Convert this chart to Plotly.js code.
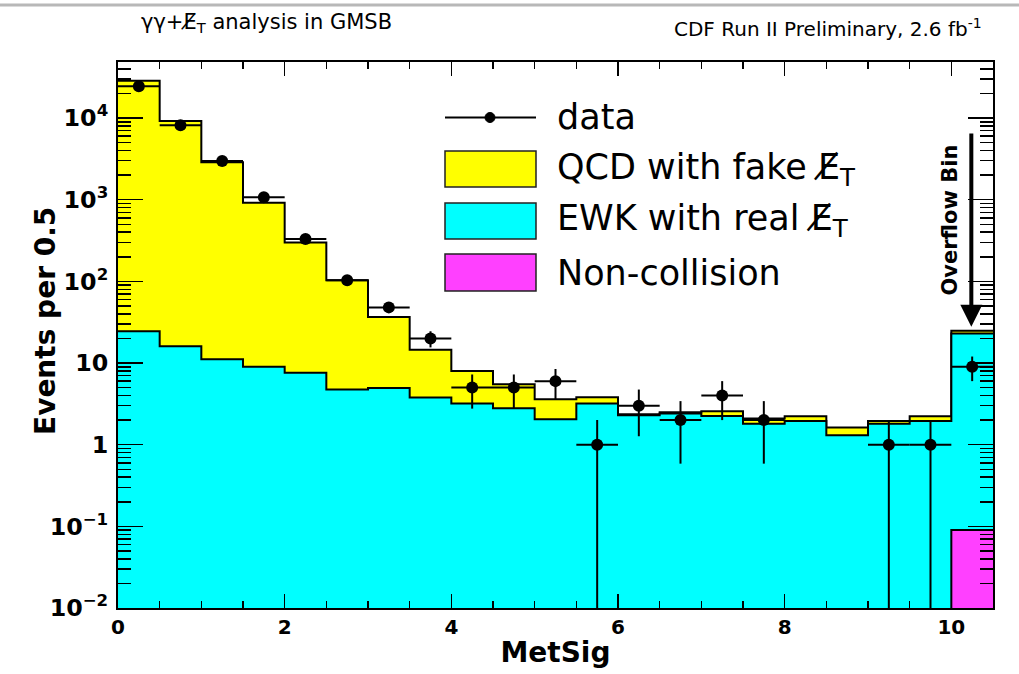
<!DOCTYPE html>
<html>
<head>
<meta charset="utf-8">
<script src="https://cdn.plot.ly/plotly-3.0.1.min.js"></script>
<style>
  html, body { margin: 0; padding: 0; background: #ffffff; }
  #chart { width: 1019px; height: 674px; }
</style>
</head>
<body>
<div id="chart"></div>
<script>
// ---- Data ----
const binCenters = [0.25, 0.75, 1.25, 1.75, 2.25, 2.75, 3.25, 3.75, 4.25, 4.75, 5.25,
                    5.75, 6.25, 6.75, 7.25, 7.75, 8.25, 8.75, 9.25, 9.75, 10.25];
const binWidth = 0.5;
const dataCounts = [24500, 8150, 2970, 1070, 329, 103, 48, 20, 5, 5, 6,
                    1, 3, 2, 4, 2, 0, 0, 1, 1, 9];
const qcdFakeMet = [28575, 9184, 2859, 907, 292.4, 98.3, 31.7, 10.8, 4.8, 2.7, 1.55,
                    0.6, 0.05, 0.1, 0.32, 0.29, 0.28, 0.32, 0.15, 0.28, 1.8];
const ewkRealMet = [24.5, 16, 11.1, 9.0, 7.6, 4.73, 4.95, 3.78, 3.19, 2.8, 2.05,
                    3.2, 2.3, 2.4, 2.25, 1.8, 1.95, 1.3, 1.8, 1.95, 22.9];
const nonCollision = [0, 0, 0, 0, 0, 0, 0, 0, 0, 0, 0,
                      0, 0, 0, 0, 0, 0, 0, 0, 0, 0.09];
const seriesNames = ['data', 'QCD with fake E\u0338<sub>T</sub>', 'EWK with real E\u0338<sub>T</sub>', 'Non-collision'];
const seriesColors = ['#000000', '#ffff00', '#00ffff', '#ff40ff'];
const xTitle = 'MetSig';
const yTitle = 'Events per 0.5';

// ---- Build step histograms (stacked: non-collision, EWK, QCD) ----
const edges = binCenters.map(c => c - binWidth / 2).concat([binCenters[binCenters.length - 1] + binWidth / 2]);
const stackNC = nonCollision.slice();
const stackEWK = nonCollision.map((v, i) => v + ewkRealMet[i]);
const stackQCD = stackEWK.map((v, i) => v + qcdFakeMet[i]);
const FLOOR = 1e-6;
function stepTrace(vals, color, name) {
  const y = vals.map(v => Math.max(v, FLOOR));
  y.push(y[y.length - 1]);
  return {
    type: 'scatter', mode: 'lines', name: name,
    x: edges, y: y,
    line: { shape: 'hv', color: '#000000', width: 2 },
    fill: 'tozeroy', fillcolor: color,
    showlegend: false, hoverinfo: 'skip'
  };
}

const dataX = [], dataY = [], errUp = [], errDn = [];
dataCounts.forEach((n, i) => {
  if (n > 0) {
    dataX.push(binCenters[i]);
    dataY.push(n);
    const s = Math.sqrt(n);
    errUp.push(s);
    errDn.push(s >= n ? n - FLOOR : s);
  }
});

const traces = [
  stepTrace(stackQCD, seriesColors[1], seriesNames[1]),
  stepTrace(stackEWK, seriesColors[2], seriesNames[2]),
  stepTrace(stackNC, seriesColors[3], seriesNames[3]),
  {
    type: 'scatter', mode: 'markers', name: seriesNames[0],
    x: dataX, y: dataY,
    marker: { color: '#000000', size: 12, symbol: 'circle' },
    error_y: { type: 'data', symmetric: false, array: errUp, arrayminus: errDn,
               color: '#000000', thickness: 2, width: 0 },
    error_x: { type: 'constant', value: binWidth / 2, color: '#000000', thickness: 2, width: 0 },
    showlegend: false
  }
];

// ---- Geometry helpers (pixel -> paper) for decorations ----
const L = 118, R = 26, T = 62, B = 66, W = 1019, H = 674;
const pw = W - L - R, ph = H - T - B;
const px = p => (p - L) / pw;
const py = p => (H - B - p) / ph;

const FONT = 'DejaVu Sans, Liberation Sans, Arial, sans-serif';

const shapes = [
  // light grey rule at very top of picture
  { type: 'line', xref: 'paper', yref: 'paper', x0: px(0), x1: px(W), y0: py(5), y1: py(5),
    line: { color: '#b8b8b8', width: 3 } },
  // legend: data line + dot
  { type: 'line', xref: 'paper', yref: 'paper', x0: px(445), x1: px(536), y0: py(117.5), y1: py(117.5),
    line: { color: '#000000', width: 2 } },
  { type: 'circle', xref: 'paper', yref: 'paper', xsizemode: 'pixel', ysizemode: 'pixel',
    xanchor: px(490), yanchor: py(117.5), x0: -5, x1: 5, y0: -5, y1: 5,
    fillcolor: '#000000', line: { color: '#000000', width: 1 } }
];
const boxRows = [[151, 187], [203, 239], [254, 291]];
boxRows.forEach((r, i) => {
  shapes.push({ type: 'rect', xref: 'paper', yref: 'paper', x0: px(445), x1: px(536), y0: py(r[1]), y1: py(r[0]),
    fillcolor: seriesColors[i + 1], line: { color: '#222222', width: 1.5 } });
});

const legendY = [117.5, 169, 221, 272.5];
const annotations = seriesNames.map((nm, i) => ({
  xref: 'paper', yref: 'paper', x: px(555), y: py(legendY[i]), xanchor: 'left', yanchor: 'middle',
  text: nm, showarrow: false, font: { family: FONT, size: 35, color: '#000000' }
}));

annotations.push(
  { xref: 'paper', yref: 'paper', x: px(266), y: py(23), xanchor: 'center', yanchor: 'middle',
    text: '\u03b3\u03b3+E\u0338<sub>T</sub> analysis in GMSB', showarrow: false,
    font: { family: FONT, size: 21, color: '#000000' } },
  { xref: 'paper', yref: 'paper', x: px(984), y: py(28), xanchor: 'right', yanchor: 'middle',
    text: 'CDF Run II Preliminary, 2.6 fb<sup>-1</sup>', showarrow: false,
    font: { family: FONT, size: 20, color: '#000000' } },
  // y-axis title, placed like the reference
  { xref: 'paper', yref: 'paper', x: px(45), y: py(321), xanchor: 'center', yanchor: 'middle',
    textangle: -90, text: yTitle, showarrow: false,
    font: { family: FONT, size: 28, weight: 'bold', color: '#000000' } },
  // Overflow arrow
  { xref: 'x', yref: 'y', axref: 'x', ayref: 'y',
    x: 10.24, y: Math.log10(stackQCD[20]) + 0.05, ax: 10.24, ay: 3.83,
    text: '', showarrow: true, arrowhead: 2, arrowsize: 1.1, arrowwidth: 4, arrowcolor: '#000000' },
  { xref: 'x', yref: 'y', x: 9.99, y: 2.75, textangle: -90, text: 'Overflow Bin', showarrow: false,
    xanchor: 'center', yanchor: 'middle',
    font: { family: FONT, size: 21, color: '#000000', weight: 'bold' } }
);

const layout = {
  width: W, height: H,
  margin: { l: L, r: R, t: T, b: B, pad: 0 },
  paper_bgcolor: '#ffffff', plot_bgcolor: '#ffffff',
  font: { family: FONT, color: '#000000' },
  showlegend: false,
  xaxis: {
    range: [0, 10.5], showgrid: false, zeroline: false,
    showline: true, linecolor: '#000000', linewidth: 2, mirror: 'ticks',
    ticks: 'inside', ticklen: 14, tickwidth: 1.5, tickcolor: '#000000',
    tickmode: 'linear', tick0: 0, dtick: 2,
    minor: { ticks: 'inside', ticklen: 7, tickwidth: 1.5, tickcolor: '#000000', dtick: 0.5, showgrid: false },
    tickfont: { family: FONT, size: 20, weight: 'bold', color: '#000000' },
    title: { text: xTitle, font: { family: FONT, size: 28, weight: 'bold', color: '#000000' }, standoff: 4 }
  },
  yaxis: {
    type: 'log', range: [-2, 4.686], showgrid: false, zeroline: false,
    showline: true, linecolor: '#000000', linewidth: 2, mirror: 'ticks',
    ticks: 'inside', ticklen: 25, tickwidth: 1.5, tickcolor: '#000000',
    tickmode: 'linear', tick0: 0, dtick: 1, exponentformat: 'power',
    minor: { ticks: 'inside', ticklen: 13, tickwidth: 1.5, tickcolor: '#000000', dtick: 'D1', showgrid: false },
    tickfont: { family: FONT, size: 19, weight: 'bold', color: '#000000' },
    ticklabelstandoff: 4
  },
  shapes: shapes,
  annotations: annotations
};

Plotly.newPlot('chart', traces, layout, { displayModeBar: false, staticPlot: true });
</script>
</body>
</html>
